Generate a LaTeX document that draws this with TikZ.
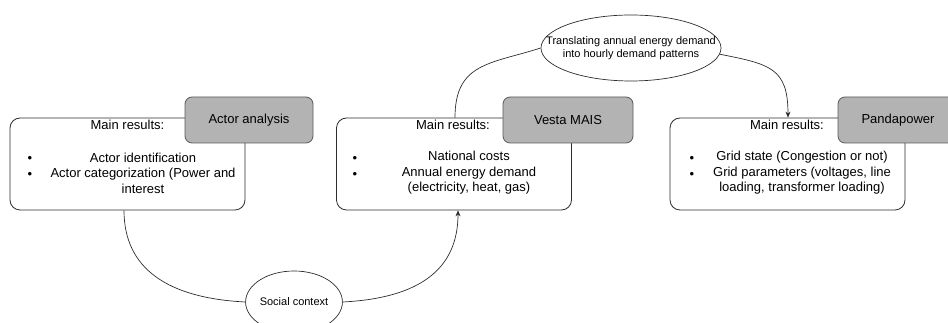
\documentclass[tikz,border=0pt]{standalone}
\usepackage{fontspec}
\setmainfont{Liberation Sans}
\usetikzlibrary{shapes.geometric,arrows.meta,positioning}
\definecolor{toolcol}{RGB}{179,179,179}
\definecolor{edgecol}{RGB}{45,45,45}
\definecolor{tooledge}{RGB}{90,90,90}

\begin{document}
\begin{tikzpicture}[
  x=1pt, y=1pt,
  result/.style={draw=edgecol, line width=0.8pt, rounded corners=10pt,
                 fill=white, minimum width=235pt, minimum height=92pt,
                 inner sep=0pt},
  tool/.style={draw=tooledge, line width=0.8pt, rounded corners=7pt,
               fill=toolcol, minimum height=46pt, inner sep=0pt,
               font=\fontsize{13}{15}\selectfont},
  heading/.style={inner sep=0pt, font=\fontsize{13}{15}\selectfont},
  items/.style={inner sep=0pt, align=center,
                font=\fontsize{13}{15.5}\selectfont},
  dot/.style={inner sep=0pt, font=\fontsize{13}{15}\selectfont},
  topic/.style={ellipse, draw=edgecol, line width=0.7pt, fill=white,
                inner sep=0pt, align=center,
                font=\fontsize{11}{13.5}\selectfont},
  link/.style={draw=edgecol, line width=0.7pt},
  >={Stealth[length=6pt,width=5pt]}
]
  \useasboundingbox (0,0) rectangle (948,323);
  \clip (0,0) rectangle (948,323);

  % Actor analysis
  \node[result] (R1) at (127.5,159) {};
  \node[tool, minimum width=128pt] (T1) at (249,203) {Actor analysis};
  \node[heading] (H1) at (127.5,198) {Main results:};
  \node[items] (L1) at (143,150)
    {Actor identification\\Actor categorization (Power and\\interest};

  % Vesta MAIS
  \node[result] (R2) at (454,159) {};
  \node[tool, minimum width=130pt] (T2) at (568,203) {Vesta MAIS};
  \node[heading] (H2) at (453,198) {Main results:};
  \node[items] (L2) at (469,150)
    {National costs\\Annual energy demand\\(electricity, heat, gas)};

  % Pandapower
  \node[result] (R3) at (787.5,159) {};
  \node[tool, minimum width=120pt] (T3) at (898,203) {Pandapower};
  \node[heading] (H3) at (787,198) {Main results:};
  \node[items] (L3) at (802,150)
    {Grid state (Congestion or not)\\Grid parameters (voltages, line\\loading, transformer loading)};

  % Bullets
  \foreach \bx [count=\i] in {30,355,692} {
    \foreach \by [count=\j] in {163.5,148} {
      \node[dot] (B\i\j) at (\bx,\by) {\textbullet};
    }
  }

  % Links between the tools
  \node[topic, minimum width=180pt, minimum height=66pt, inner xsep=-30pt]
    (E1) at (631,275) {Translating annual energy demand\\into hourly demand patterns};
  \node[topic, minimum width=96pt, minimum height=62pt] (E2) at (294,21) {Social context};

  \draw[link] ([xshift=-3.5pt]R1.south) .. controls +(0,-58) and +(-78,4) .. (E2.west);
  \draw[link, ->] (E2.east) .. controls +(78,4) and +(0,-58) .. ([xshift=4pt]R2.south);
  \draw[link] ([xshift=1pt]R2.north) .. controls +(0,55) and +(-50,-16) .. (E1.west);
  \draw[link, ->] (E1.-4) .. controls +(50,-10) and +(0,50) .. ([xshift=0.5pt]R3.north);
\end{tikzpicture}
\end{document}
